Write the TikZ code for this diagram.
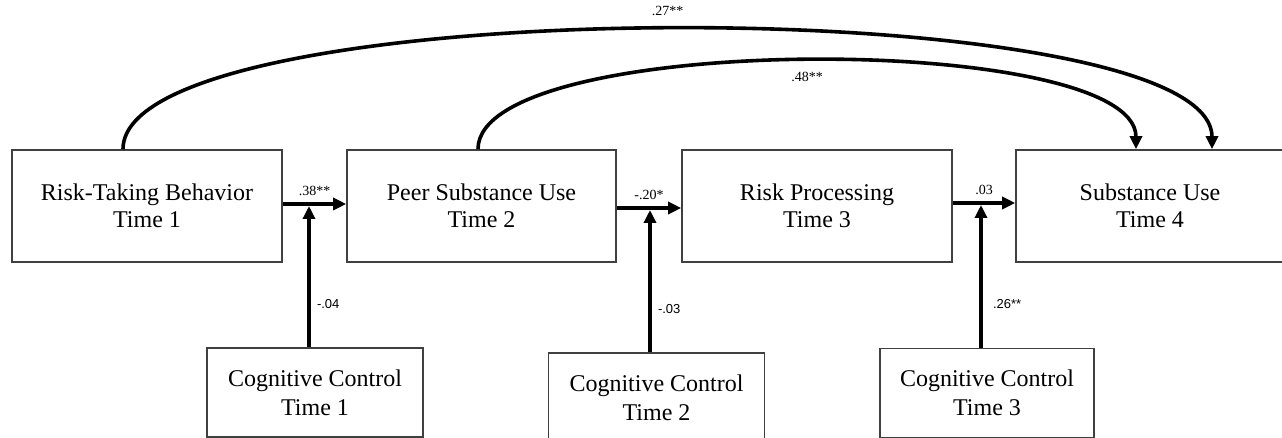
\documentclass[tikz,border=0pt]{standalone}
\usepackage{fontspec}
\setmainfont{Liberation Serif}
\newfontfamily\coefsans{Liberation Sans}
\usetikzlibrary{arrows.meta}

\begin{document}
\begin{tikzpicture}[x=0.5pt, y=-0.5pt,
    box/.style = {draw=black!75, line width=0.8pt, align=center, minimum height=56pt, font=\fontsize{12}{13.5}\selectfont},
    ccbox/.style = {draw=black!75, line width=0.8pt, align=center, minimum width=108pt, minimum height=44.5pt, font=\fontsize{12}{14.5}\selectfont},
    effect/.style = {line width=2pt, -{Triangle[length=6.5pt, width=6pt]}},
    longeffect/.style = {line width=1.8pt, -{Triangle[length=6.5pt, width=6pt]}},
    coef/.style = {font=\fontsize{7}{8}\selectfont, inner sep=1pt},
    coefsf/.style = {font=\coefsans\fontsize{6.5}{8}\selectfont, inner sep=1pt}
    ]
    \useasboundingbox (0,0) rectangle (1282,438);
    \clip (0,0) rectangle (1282,438);

    \node[box, minimum width=135pt]   (rtb1) at (147,206)    {Risk-Taking Behavior\\Time 1};
    \node[box, minimum width=134.5pt] (psu2) at (481.5,206)  {Peer Substance Use\\Time 2};
    \node[box, minimum width=135pt]   (rp3)  at (817,206)    {Risk Processing\\Time 3};
    \node[box, minimum width=134pt]   (su4)  at (1150,206)   {Substance Use\\Time 4};

    \node[ccbox] (cc1) at (315,392.5)   {Cognitive Control\\Time 1};
    \node[ccbox] (cc2) at (656.5,397.5) {Cognitive Control\\Time 2};
    \node[ccbox, minimum width=107pt] (cc3) at (987,393) {Cognitive Control\\Time 3};

    \draw[effect] ([yshift=1pt]rtb1.east) -- node[coef, above=2pt] (b38) {.38**} ([yshift=1pt]psu2.west);
    \draw[effect] ([yshift=-1pt]psu2.east) -- node[coef, above=2pt] (b20) {-.20*} ([yshift=-1pt]rp3.west);
    \draw[effect] ([yshift=1.5pt]rp3.east) -- node[coef, above=2pt] (b03) {.03} ([yshift=1.5pt]su4.west);

    \coordinate (j1) at (309,204);
    \coordinate (j2) at (650,208);
    \coordinate (j3) at (981,203);

    \draw[effect, shorten >=1pt] (cc1.north -| j1) -- node[coefsf, pos=0.3, right=2pt] (m04) {-.04} (j1);
    \draw[effect, shorten >=1pt] (cc2.north -| j2) -- node[coefsf, pos=0.3, right=2pt] (m03) {-.03} (j2);
    \draw[effect, shorten >=1pt] (cc3.north -| j3) -- node[coefsf, pos=0.3, right=4pt] (m26) {.26**} (j3);

    \draw[longeffect] ([xshift=-12pt]rtb1.north) .. controls +(0,-160) and +(0,-160) .. ([xshift=31pt]su4.north)
        node[coef, pos=0.5, above=5pt] (c27) {.27**};
    \draw[longeffect] ([xshift=-1.75pt]psu2.north) .. controls +(0,-118) and +(0,-118) .. ([xshift=-7pt]su4.north)
        node[coef, pos=0.5, below=4pt] (c48) {.48**};
\end{tikzpicture}
\end{document}
